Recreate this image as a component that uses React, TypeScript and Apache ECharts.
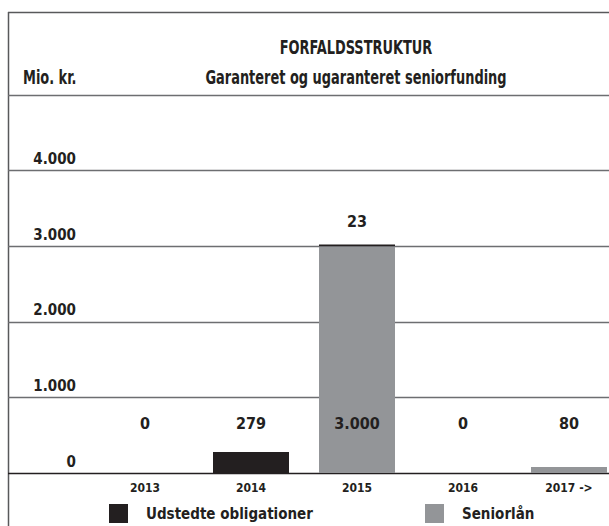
import React, { useEffect, useRef } from "react";
import * as echarts from "echarts";

const categories = ["2013", "2014", "2015", "2016", "2017 ->"];
const udstedteObligationer = [0, 279, 23, 0, 0];
const seniorlaan = [0, 0, 3000, 0, 80];
const rowLabelValues = [0, 279, 3000, 0, 80];
const yTicks = { min: 0, max: 5000, interval: 1000 };

const FONT = "'Liberation Sans Narrow', 'DejaVu Sans Condensed', 'Roboto Condensed', 'Arial Narrow', sans-serif";
const INK = "#231f20";
const GREY = "#939598";
const LINE = "#6d6e71";
const ROW_LABEL_Y = 650;
const SQUEEZE = 0.72;
const CANVAS_W = 640;

const fmt = (v: number) => String(Math.round(v)).replace(/\B(?=(\d{3})+(?!\d))/g, ".");

export default function App() {
  const ref = useRef<HTMLDivElement>(null);
  useEffect(() => {
    if (!ref.current) return;
    const chart = echarts.init(ref.current, undefined, { renderer: "svg" });
    const gridTop = 95;
    const gridH = 378;
    const legendText = { fontFamily: FONT, fontWeight: "bold", fontSize: 15, color: INK, padding: [0, 0, 0, 13] };
    chart.setOption({
      animation: false,
      textStyle: { fontFamily: FONT, fontWeight: "bold", color: INK },
      grid: [
        { left: 92, top: gridTop, width: 530, height: gridH },
        { left: 8, right: CANVAS_W - 609, top: gridTop, height: gridH },
      ],
      xAxis: [
        {
          type: "category",
          gridIndex: 0,
          data: categories,
          axisLine: { show: false },
          axisTick: { show: false },
          axisLabel: { fontFamily: FONT, fontWeight: "bold", fontSize: 12, color: INK, margin: 9 },
        },
        { type: "value", gridIndex: 1, show: false, min: 0, max: 1 },
      ],
      yAxis: [
        { type: "value", gridIndex: 0, ...yTicks, show: false },
        {
          type: "value",
          gridIndex: 1,
          ...yTicks,
          axisLine: { show: false },
          axisTick: { show: false },
          splitLine: { show: true, lineStyle: { color: [INK, LINE, LINE, LINE, LINE, LINE], width: 1.3 } },
          axisLabel: {
            inside: true,
            margin: 68,
            align: "right",
            verticalAlign: "bottom",
            padding: [0, 0, 4, 0],
            fontFamily: FONT,
            fontWeight: "bold",
            fontSize: 15,
            color: INK,
            formatter: (v: number) => (v >= 5000 ? "" : fmt(v)),
          },
        },
      ],
      legend: [
        {
          data: ["Udstedte obligationer"],
          left: 109,
          top: 504,
          padding: 0,
          icon: "rect",
          itemWidth: 19,
          itemHeight: 19,
          textStyle: legendText,
        },
        {
          data: ["Seniorlån"],
          left: 425,
          top: 504,
          padding: 0,
          icon: "rect",
          itemWidth: 19,
          itemHeight: 19,
          textStyle: legendText,
        },
      ],
      series: [
        {
          name: "Seniorlån",
          type: "bar",
          stack: "total",
          xAxisIndex: 0,
          yAxisIndex: 0,
          data: seniorlaan,
          barWidth: 76,
          itemStyle: { color: GREY },
        },
        {
          name: "Udstedte obligationer",
          type: "bar",
          stack: "total",
          xAxisIndex: 0,
          yAxisIndex: 0,
          data: udstedteObligationer.map((v, i) => ({
            value: v,
            label: {
              show: seniorlaan[i] > 0 && v > 0,
              position: "top",
              distance: 15,
              formatter: () => fmt(v),
              fontFamily: FONT,
              fontWeight: "bold",
              fontSize: 16,
              color: INK,
            },
          })),
          barWidth: 76,
          itemStyle: { color: INK },
        },
        {
          type: "scatter",
          xAxisIndex: 0,
          yAxisIndex: 0,
          symbolSize: 0,
          silent: true,
          itemStyle: { opacity: 1, color: INK },
          data: rowLabelValues.map((v, i) => [categories[i], ROW_LABEL_Y, v]),
          label: {
            show: true,
            position: "inside",
            formatter: (p: any) => fmt(p.value[2]),
            fontFamily: FONT,
            fontWeight: "bold",
            fontSize: 16,
            color: INK,
          },
        },
      ],
      graphic: [
        { type: "line", shape: { x1: 8.5, y1: 12, x2: 8.5, y2: 526 }, style: { stroke: "#58595b", lineWidth: 1.5 } },
        { type: "line", shape: { x1: 8, y1: 12.5, x2: 609, y2: 12.5 }, style: { stroke: "#58595b", lineWidth: 1.5 } },
        {
          type: "text",
          x: 356,
          y: 47,
          scaleX: SQUEEZE,
          style: { text: "FORFALDSSTRUKTUR", fontFamily: FONT, fontWeight: "bold", fontSize: 20, fill: INK, align: "center", verticalAlign: "middle" },
        },
        {
          type: "text",
          x: 356,
          y: 77,
          scaleX: SQUEEZE,
          style: { text: "Garanteret og ugaranteret seniorfunding", fontFamily: FONT, fontWeight: "bold", fontSize: 20, fill: INK, align: "center", verticalAlign: "middle" },
        },
        {
          type: "text",
          x: 23,
          y: 77,
          scaleX: SQUEEZE,
          style: { text: "Mio. kr.", fontFamily: FONT, fontWeight: "bold", fontSize: 20, fill: INK, align: "left", verticalAlign: "middle" },
        },
      ],
    });
    return () => chart.dispose();
  }, []);
  return (
    <div style={{ position: "absolute", left: 0, top: 0, width: 609, height: 526, overflow: "hidden" }}>
      <div ref={ref} style={{ width: CANVAS_W, height: 526 }} />
    </div>
  );
}
